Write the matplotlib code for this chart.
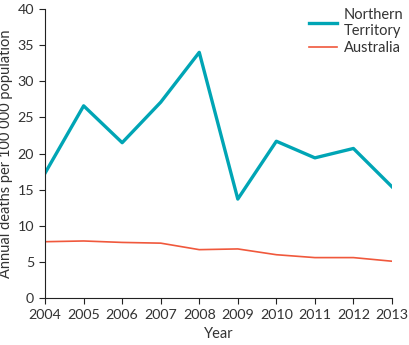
import matplotlib
matplotlib.use("Agg")
import matplotlib.pyplot as plt

years = [2004, 2005, 2006, 2007, 2008, 2009, 2010, 2011, 2012, 2013]
nt_rates = [17.3, 26.6, 21.5, 27.1, 34.0, 13.7, 21.7, 19.4, 20.7, 15.4]
aus_rates = [7.8, 7.9, 7.7, 7.6, 6.7, 6.8, 6.0, 5.6, 5.6, 5.1]

plt.rcParams['font.family'] = ['Lato', 'DejaVu Sans']

fig = plt.figure(figsize=(4.10, 3.45), dpi=100)
ax = fig.add_axes([0.110, 0.136, 0.846, 0.838])

ax.plot(years, nt_rates, color='#00a5b5', linewidth=2.4, label='Northern\nTerritory')
ax.plot(years, aus_rates, color='#f0583c', linewidth=1.2, label='Australia')

ax.set_xlim(2004, 2013)
ax.set_ylim(0, 40)
ax.set_xticks(years)
ax.set_yticks(range(0, 41, 5))
ax.spines['top'].set_visible(False)
ax.spines['right'].set_visible(False)
for s in ('left', 'bottom'):
    ax.spines[s].set_linewidth(0.8)
    ax.spines[s].set_color('#222222')
ax.tick_params(axis='both', labelsize=10.3, color='#222222', width=0.8, length=4,
               labelcolor='#333333', pad=4)
ax.set_xlabel('Year', fontsize=10.5, color='#333333', labelpad=4)
ax.set_ylabel('Annual deaths per 100 000 population', fontsize=10.5, color='#333333', labelpad=3)

ax.legend(loc='upper right', bbox_to_anchor=(1.055, 1.03), frameon=False, fontsize=10.5,
          handlelength=1.9, handletextpad=0.5, labelspacing=0.2, borderpad=0,
          labelcolor='#333333')

fig.savefig('out.png', dpi=100)
